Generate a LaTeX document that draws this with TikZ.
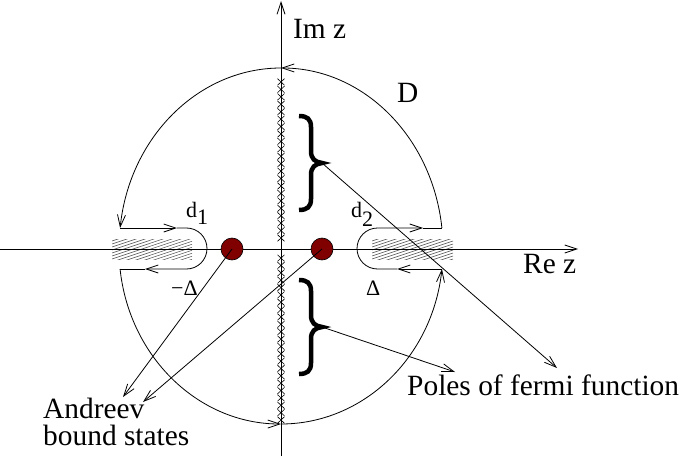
\documentclass[tikz,border=0pt]{standalone}
\usepackage{fontspec}
\setmainfont{Liberation Serif}
\usetikzlibrary{arrows.meta}
\definecolor{dotred}{RGB}{128,0,0}
\definecolor{hatchgray}{RGB}{70,70,70}
\begin{document}
\begin{tikzpicture}[x=1pt,y=1pt,
  ln/.style={line width=0.8pt},
  arr/.style={ln,-{Straight Barb[length=12pt,width=8pt]}},
  big/.style={font=\fontsize{29.4}{30}\selectfont, inner sep=0pt, anchor=base west},
  small/.style={font=\fontsize{22}{23}\selectfont, inner sep=0pt, anchor=base west},
  bracestroke/.style={line width=4.5pt},
  hatchline/.style={hatchgray, line width=0.5pt},
  polemark/.style={line width=0.6pt},
  dotnode/.style={circle, draw, fill=dotred, minimum size=22pt, inner sep=0pt, line width=0.6pt}]
\useasboundingbox (0,0) rectangle (685,456);

% hatched cuts
\begin{scope}
  \clip (112,197) rectangle (192,217);
  \foreach \k in {-10,...,7} \draw[hatchline] (112,{197+3*\k}) -- (192,{223.7+3*\k});
\end{scope}
\begin{scope}
  \clip (372,197) rectangle (453,217);
  \foreach \k in {-10,...,7} \draw[hatchline] (372,{197+3*\k}) -- (453,{224+3*\k});
\end{scope}

% axes
\draw[arr] (0,207) -- (578,207);
\draw[arr] (281,0) -- (281,455);

% big contour arcs
\draw[arr] (441.9,228) arc[start angle=6.66, end angle=90, x radius=162, y radius=181];
\draw[arr] (281,388) arc[start angle=90, end angle=173.34, x radius=162, y radius=181];
\draw[arr] (120.06,187) arc[start angle=186.56, end angle=270, x radius=162, y radius=175];
\draw[arr] (281,32) arc[start angle=270, end angle=353.44, x radius=162, y radius=175];

% left keyhole
\draw[arr] (120,228) -- (177,228);
\draw[arr] (177,228) -- (186.5,228) arc[start angle=90, end angle=-90, radius=20.5] -- (145,187);
\draw[ln] (145,187) -- (120,187);

% right keyhole
\draw[arr] (442,187) -- (397,187);
\draw[arr] (397,187) -- (377.5,187) arc[start angle=270, end angle=90, radius=20.5] -- (423,228);
\draw[ln] (423,228) -- (442,228);

% poles on imaginary axis
\foreach \i [evaluate=\i as \yy using 218+7.43*\i] in {0,...,21}
  \draw[polemark] (277.5,{\yy-3.3}) -- (284.5,{\yy+3.3}) (277.5,{\yy+3.3}) -- (284.5,{\yy-3.3});
\foreach \i [evaluate=\i as \yy using 36+7.36*\i] in {0,...,22}
  \draw[polemark] (277.5,{\yy-3.3}) -- (284.5,{\yy+3.3}) (277.5,{\yy+3.3}) -- (284.5,{\yy-3.3});

% Andreev bound state dots
\node[dotnode] (dL) at (232,207) {};
\node[dotnode] (dR) at (322,207) {};

% braces
\draw[bracestroke] (299,340) .. controls (307,340) and (311,337) .. (311,329) -- (311,305)
  .. controls (311,297) and (315,294) .. (322,293) .. controls (315,292) and (311,289) .. (311,281)
  -- (311,257) .. controls (311,249) and (307,246) .. (299,246);
\begin{scope}[yshift=-164pt]
\draw[bracestroke] (299,340) .. controls (307,340) and (311,337) .. (311,329) -- (311,305)
  .. controls (311,297) and (315,294) .. (322,293) .. controls (315,292) and (311,289) .. (311,281)
  -- (311,257) .. controls (311,249) and (307,246) .. (299,246);
\end{scope}

\coordinate (bt1) at (322,293);
\coordinate (bt2) at (322,129);
\coordinate (pf1) at (557,88);
\coordinate (pf2) at (455,84);
\coordinate (ab1) at (123,59);
\coordinate (ab2) at (143,54);

\draw[arr] (bt1) -- (pf1);
\draw[arr] (bt2) -- (pf2);
\draw[arr] (dL.center) -- (ab1);
\draw[arr] (dR.center) -- (ab2);

% labels
\node[big] (imz) at (293,417) {Im z};
\node[big] (dlab) at (397,353) {D};
\node[big] (rez) at (523,183) {Re z};
\node[big] (poles) at (407,61) {Poles of fermi function};
\node[big] (andr) at (43,38) {Andreev};
\node[big] (bound) at (43,11) {bound states};
\node[small] (d1) at (186,239) {d\raisebox{-7pt}{1}};
\node[small] (d2) at (351,239) {d\raisebox{-9pt}{2}};
\node[small] (mdelta) at (171,161) {−Δ};
\node[small] (pdelta) at (366,161) {Δ};
\end{tikzpicture}
\end{document}
